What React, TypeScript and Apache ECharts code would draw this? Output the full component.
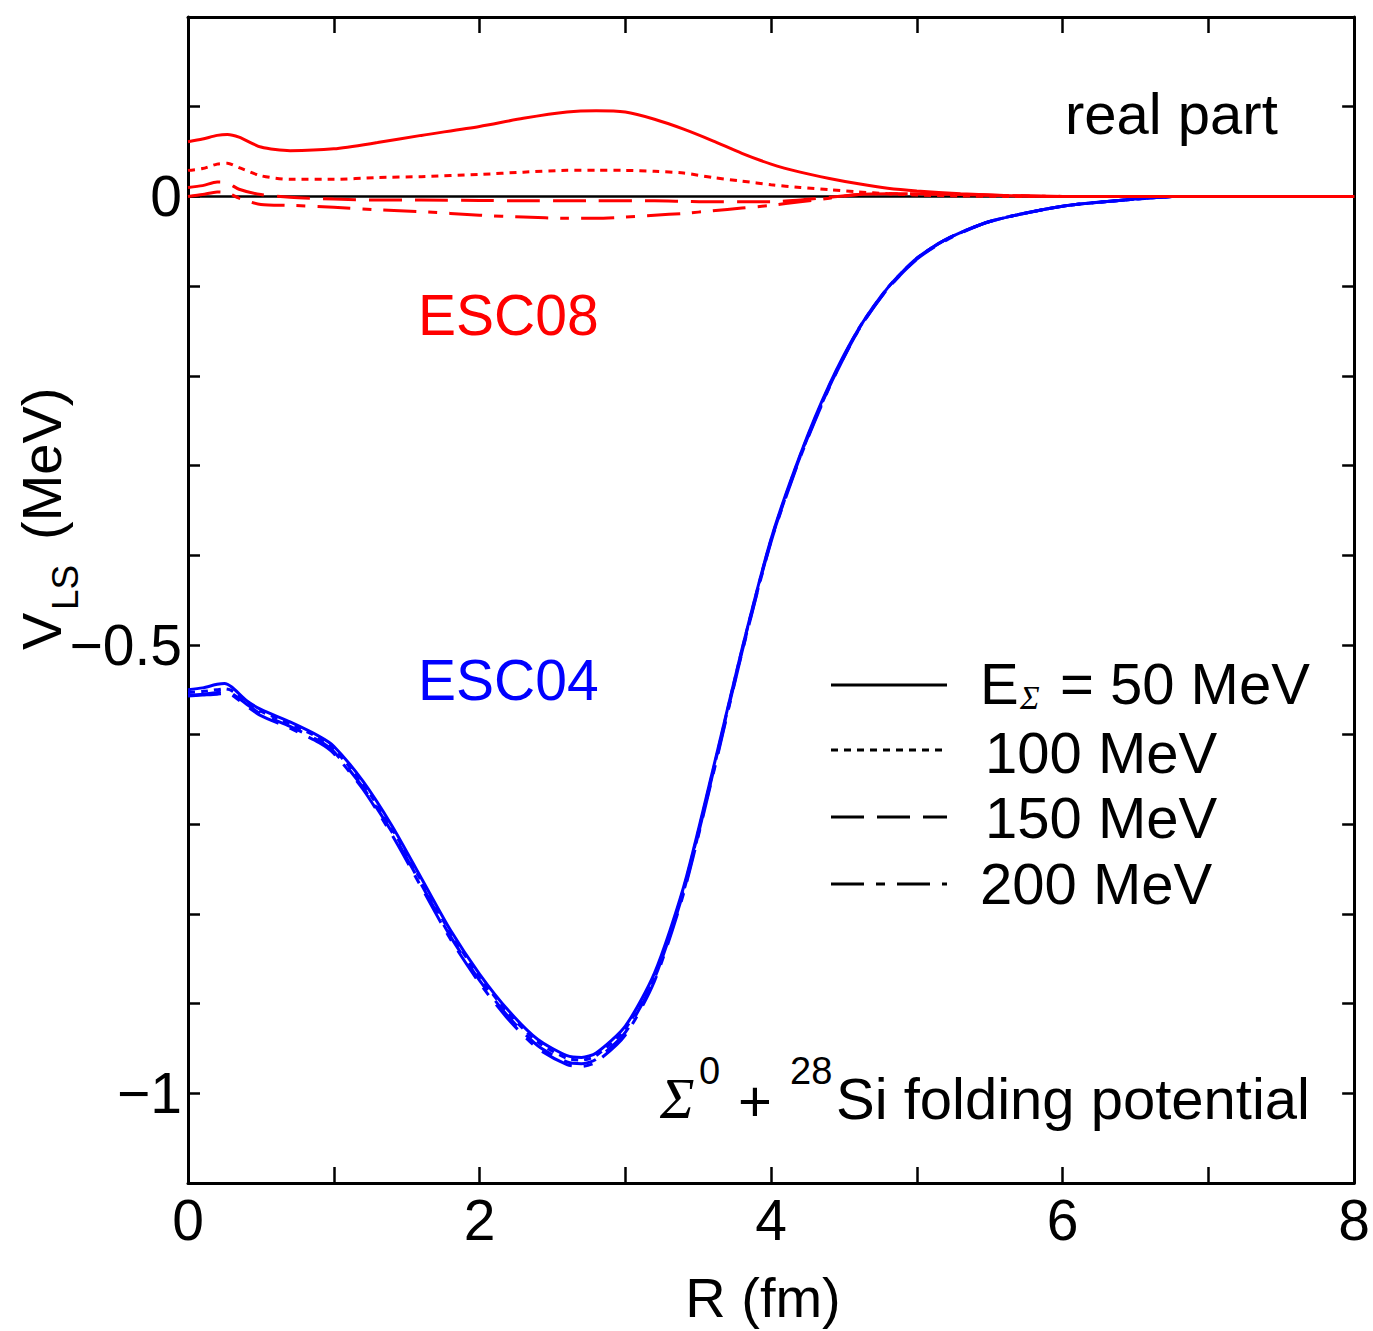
import { useEffect, useRef } from "react";
import * as echarts from "echarts";

const SANS = "'Liberation Sans', Arial, Helvetica, sans-serif";
const SERIF = "'Liberation Serif', 'DejaVu Serif', 'Times New Roman', serif";

// Axis ranges and tick labels
const X_MIN = 0;
const X_MAX = 8;
const X_STEP = 1;
const X_LABELED = [0, 2, 4, 6, 8];
const Y_MIN = -1.1;
const Y_MAX = 0.2;
const Y_STEP = 0.1;
const Y_LABELS: [number, string][] = [
  [0, "0"],
  [-0.5, "\u22120.5"],
  [-1, "\u22121"],
];

// ESC08 (real part), radii in fm
const R_ESC08 = [0, 0.1, 0.2, 0.27, 0.35, 0.5, 0.7, 1.0, 1.3, 1.6, 2.0, 2.3, 2.6, 2.8, 3.0, 3.2, 3.4, 3.6, 3.8, 4.0, 4.2, 4.4, 4.6, 4.8, 5.0, 5.3, 5.6, 6.0, 8.0];
const ESC08_50 = [0.061, 0.064, 0.068, 0.069, 0.066, 0.055, 0.051, 0.053, 0.06, 0.068, 0.078, 0.087, 0.094, 0.0955, 0.094, 0.086, 0.075, 0.062, 0.048, 0.036, 0.027, 0.02, 0.014, 0.009, 0.006, 0.003, 0.001, 0, 0];
const ESC08_100 = [0.029, 0.031, 0.036, 0.037, 0.032, 0.023, 0.019, 0.019, 0.021, 0.022, 0.0245, 0.027, 0.029, 0.029, 0.029, 0.028, 0.026, 0.021, 0.017, 0.013, 0.01, 0.0075, 0.005, 0.003, 0.0015, 0.0005, 0, 0, 0];
const ESC08_150 = [0.01, 0.012, 0.016, 0.015, 0.008, 0.002, -0.001, -0.003, -0.004, -0.004, -0.0045, -0.005, -0.005, -0.005, -0.005, -0.005, -0.0055, -0.006, -0.006, -0.006, -0.004, -0.001, 0.002, 0.003, 0.003, 0.002, 0.001, 0, 0];
const ESC08_200 = [0, 0.002, 0.005, 0.004, -0.002, -0.009, -0.01, -0.012, -0.015, -0.017, -0.021, -0.023, -0.0245, -0.0245, -0.023, -0.021, -0.019, -0.016, -0.013, -0.01, -0.006, -0.002, 0.002, 0.003, 0.003, 0.002, 0.001, 0, 0];

// ESC04 (real part), radii in fm
const R_ESC04 = [0, 0.1, 0.2, 0.25, 0.3, 0.4, 0.5, 0.7, 0.9, 1.0, 1.2, 1.4, 1.6, 1.8, 2.0, 2.2, 2.4, 2.6, 2.7, 2.8, 3.0, 3.2, 3.4, 3.6, 3.8, 4.0, 4.2, 4.4, 4.6, 4.8, 5.0, 5.2, 5.5, 6.0, 6.5, 6.75];
const ESC04_50 = [-0.55, -0.548, -0.544, -0.543, -0.547, -0.562, -0.572, -0.586, -0.602, -0.613, -0.652, -0.702, -0.76, -0.818, -0.867, -0.908, -0.94, -0.958, -0.96, -0.955, -0.925, -0.866, -0.77, -0.64, -0.505, -0.382, -0.288, -0.21, -0.148, -0.102, -0.069, -0.048, -0.028, -0.011, -0.003, 0];
const ESC04_100 = [-0.553, -0.552, -0.55, -0.549, -0.551, -0.563, -0.574, -0.588, -0.604, -0.616, -0.655, -0.705, -0.763, -0.821, -0.87, -0.911, -0.943, -0.961, -0.963, -0.958, -0.928, -0.869, -0.772, -0.642, -0.506, -0.383, -0.289, -0.211, -0.148, -0.102, -0.069, -0.048, -0.028, -0.011, -0.003, 0];
const ESC04_150 = [-0.556, -0.555, -0.553, -0.552, -0.554, -0.566, -0.577, -0.591, -0.607, -0.619, -0.659, -0.709, -0.767, -0.825, -0.874, -0.915, -0.947, -0.965, -0.967, -0.962, -0.932, -0.872, -0.775, -0.644, -0.508, -0.384, -0.29, -0.212, -0.149, -0.103, -0.07, -0.048, -0.028, -0.011, -0.003, 0];
const ESC04_200 = [-0.557, -0.556, -0.555, -0.554, -0.556, -0.568, -0.579, -0.593, -0.609, -0.621, -0.661, -0.712, -0.77, -0.828, -0.877, -0.918, -0.95, -0.968, -0.97, -0.965, -0.935, -0.875, -0.777, -0.646, -0.509, -0.385, -0.291, -0.213, -0.149, -0.103, -0.07, -0.049, -0.028, -0.011, -0.003, 0];

// Line styles per energy
const ENERGIES = ["50 MeV", "100 MeV", "150 MeV", "200 MeV"];
const DASHES: (number[] | "solid")[] = ["solid", [7, 6], [33, 13], [33, 12, 9, 12]];

const RED = "#ff0000";
const BLUE = "#0000ff";

const pair = (xs: number[], ys: number[]) => xs.map((x, i) => [x, ys[i]]);

function curve(name: string, xs: number[], ys: number[], color: string, k: number, z: number) {
  return {
    type: "line",
    name,
    data: pair(xs, ys),
    symbol: "none",
    showSymbol: false,
    smooth: 0.25,
    silent: true,
    z,
    lineStyle: { color, width: 3, type: DASHES[k] },
  };
}

export default function App() {
  const ref = useRef<HTMLDivElement>(null);

  useEffect(() => {
    if (!ref.current) return;
    const chart = echarts.init(ref.current, undefined, { renderer: "svg" });

    const xAxisBase = {
      type: "value",
      min: X_MIN,
      max: X_MAX,
      interval: X_STEP,
      splitLine: { show: false },
      axisLine: { show: true, onZero: false, lineStyle: { color: "#000", width: 3 } },
      axisTick: { show: true, inside: true, length: 16, lineStyle: { color: "#000", width: 2.5 } },
    };
    const yAxisBase = {
      type: "value",
      min: Y_MIN,
      max: Y_MAX,
      interval: Y_STEP,
      splitLine: { show: false },
      axisLine: { show: true, onZero: false, lineStyle: { color: "#000", width: 3 } },
      axisTick: { show: true, inside: true, length: 12, lineStyle: { color: "#000", width: 2.5 } },
    };

    const legendY = [685, 750, 817, 884];
    const legendRows = ENERGIES.map((_, k) => ({
      type: "line",
      shape: { x1: 831, y1: legendY[k], x2: 947, y2: legendY[k] },
      style: {
        stroke: "#000",
        lineWidth: 3,
        lineDash: DASHES[k] === "solid" ? null : (DASHES[k] as number[]),
      },
      silent: true,
    }));

    const txt = (text: string, x: number, y: number, size: number, extra: any = {}) => ({
      type: "text",
      x,
      y,
      silent: true,
      style: {
        text,
        fontSize: size,
        lineHeight: Math.round(size * 0.85),
        fontFamily: SANS,
        fill: "#000",
        align: "left",
        verticalAlign: "middle",
        ...extra,
      },
    });

    chart.setOption({
      animation: false,
      backgroundColor: "#ffffff",
      grid: { left: 188, right: 17, top: 17, bottom: 148, containLabel: false },
      xAxis: [
        {
          ...xAxisBase,
          position: "bottom",
          axisLabel: {
            show: true,
            margin: 8,
            fontSize: 57,
            fontFamily: SANS,
            color: "#000",
            showMinLabel: true,
            showMaxLabel: true,
            formatter: (v: number) =>
              X_LABELED.some((t) => Math.abs(t - v) < 1e-9) ? String(Math.round(v)) : "",
          },
        },
        { ...xAxisBase, position: "top", axisLabel: { show: false } },
      ],
      yAxis: [
        {
          ...yAxisBase,
          position: "left",
          axisLabel: {
            show: true,
            margin: 6,
            fontSize: 57,
            fontFamily: SANS,
            color: "#000",
            showMinLabel: true,
            showMaxLabel: true,
            formatter: (v: number) => {
              const hit = Y_LABELS.find(([t]) => Math.abs(t - v) < 1e-9);
              return hit ? hit[1] : "";
            },
          },
        },
        { ...yAxisBase, position: "right", axisLabel: { show: false } },
      ],
      series: [
        {
          type: "line",
          name: "zero",
          data: [
            [X_MIN, 0],
            [X_MAX, 0],
          ],
          symbol: "none",
          silent: true,
          z: 1,
          lineStyle: { color: "#000", width: 2.5 },
        },
        curve("ESC04 " + ENERGIES[0], R_ESC04, ESC04_50, BLUE, 0, 2),
        curve("ESC04 " + ENERGIES[1], R_ESC04, ESC04_100, BLUE, 1, 2),
        curve("ESC04 " + ENERGIES[2], R_ESC04, ESC04_150, BLUE, 2, 2),
        curve("ESC04 " + ENERGIES[3], R_ESC04, ESC04_200, BLUE, 3, 2),
        curve("ESC08 " + ENERGIES[3], R_ESC08, ESC08_200, RED, 3, 3),
        curve("ESC08 " + ENERGIES[2], R_ESC08, ESC08_150, RED, 2, 3),
        curve("ESC08 " + ENERGIES[1], R_ESC08, ESC08_100, RED, 1, 3),
        curve("ESC08 " + ENERGIES[0], R_ESC08, ESC08_50, RED, 0, 3),
      ],
      graphic: [
        // axis titles
        txt("R (fm)", 763, 1297, 56, { align: "center" }),
        {
          type: "group",
          x: 41,
          y: 650,
          rotation: Math.PI / 2,
          silent: true,
          children: [
            txt("V", 0, 0, 56),
            txt("LS", 40, 24, 37),
            txt("(MeV)", 110, 0, 56),
          ],
        },
        // panel annotations
        txt("real part", 1065, 113, 58),
        txt("ESC08", 418, 315, 57, { fill: RED }),
        txt("ESC04", 418, 680, 57, { fill: BLUE }),
        // legend
        ...legendRows,
        txt("E", 980, 683, 58),
        txt("\u03a3", 1020, 698, 33, { fontFamily: SERIF, fontStyle: "italic", lineHeight: 26 }),
        txt("= 50 MeV", 1060, 683, 58),
        txt(ENERGIES[1], 985, 752, 58),
        txt(ENERGIES[2], 985, 817, 58),
        txt(ENERGIES[3], 980, 883, 58),
        // system label
        txt("\u03a3", 660, 1098, 58, { fontFamily: SERIF, fontStyle: "italic" }),
        txt("0", 699, 1071, 38),
        txt("+", 738, 1100, 58),
        txt("28", 790, 1071, 38),
        txt("Si folding potential", 836, 1098, 58),
      ],
    });

    return () => chart.dispose();
  }, []);

  return (
    <div
      ref={ref}
      style={{ position: "absolute", left: 0, top: 0, width: 1373, height: 1331, background: "#fff" }}
    />
  );
}
